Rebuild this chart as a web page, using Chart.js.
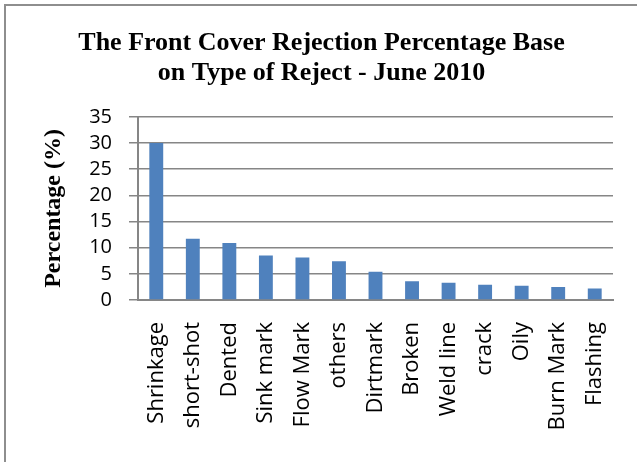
<!DOCTYPE html>
<html lang="en">
<head>
    <meta charset="UTF-8" />
    <title>Front Cover Rejection Percentage</title>
    <script src="https://cdn.jsdelivr.net/npm/chart.js"></script>
    <style>
        html, body {
            margin: 0;
            padding: 0;
            background: #ffffff;
        }
        #wrap {
            position: relative;
            width: 637px;
            height: 462px;
        }
        /* frame line on the top and left edge */
        #frame {
            position: absolute;
            left: 4px;
            top: 4px;
            right: 0;
            bottom: 0;
            border-top: 2px solid #8e8e8e;
            border-left: 2px solid #8e8e8e;
            pointer-events: none;
        }
    </style>
</head>
<body>

<div id="wrap">
    <canvas id="rejectChart" width="637" height="462"></canvas>
    <div id="frame"></div>
</div>

<script>
    // reject types, June 2010
    const rejectTypes = ['Shrinkage', 'short-shot', 'Dented', 'Sink mark', 'Flow Mark', 'others',
        'Dirtmark', 'Broken', 'Weld line', 'crack', 'Oily', 'Burn Mark', 'Flashing'];
    const rejectPercent = [30.0, 11.7, 10.9, 8.5, 8.1, 7.4, 5.4, 3.6, 3.3, 2.9, 2.7, 2.5, 2.2];
    const yTicks = [0, 5, 10, 15, 20, 25, 30, 35];

    const titleLines = ['The Front Cover Rejection Percentage Base', 'on Type of Reject - June 2010'];
    const axisGrey = '#868686';

    const ctx = document.getElementById('rejectChart').getContext('2d');

    new Chart(ctx, {
        type: 'bar',
        data: {
            labels: rejectTypes,
            datasets: [{
                label: 'Percentage (%)',
                data: rejectPercent,
                backgroundColor: '#4f81bd',
                borderWidth: 0,
                categoryPercentage: 1.0,
                barPercentage: 0.38
            }]
        },
        options: {
            responsive: false,
            animation: false,
            layout: {
                padding: { left: 6, right: 0, top: 0, bottom: 0 }
            },
            plugins: {
                legend: { display: false },
                tooltip: { enabled: false },
                title: {
                    display: true,
                    text: titleLines,
                    color: '#000000',
                    font: { family: '"Liberation Serif", "Times New Roman", serif', size: 26, weight: 'bold', lineHeight: 1.15 },
                    padding: { top: 28, bottom: 29 }
                }
            },
            scales: {
                x: {
                    grid: { display: false, drawTicks: false },
                    border: { display: true, color: axisGrey, width: 2 },
                    ticks: {
                        color: '#000000',
                        font: { family: '"Open Sans", sans-serif', size: 22 },
                        maxRotation: 90,
                        minRotation: 90,
                        autoSkip: false,
                        padding: 22
                    },
                    afterFit(scale) {
                        scale.height = 162;
                        // gap between the last category and the right edge
                        scale.paddingLeft = 0;
                        scale.paddingRight = 24;
                    }
                },
                y: {
                    min: 0,
                    max: 35,
                    afterBuildTicks(scale) {
                        scale.ticks = yTicks.map(v => ({ value: v }));
                    },
                    grid: {
                        color: axisGrey,
                        lineWidth: 1.5,
                        drawTicks: true,
                        tickLength: 9
                    },
                    border: { display: true, color: axisGrey, width: 2 },
                    ticks: {
                        color: '#000000',
                        font: { family: '"Open Sans", sans-serif', size: 20 },
                        autoSkip: false,
                        padding: 17
                    },
                    title: {
                        display: true,
                        text: 'Percentage (%)',
                        color: '#000000',
                        font: { family: '"Liberation Serif", "Times New Roman", serif', size: 24, weight: 'bold' },
                        padding: { top: 33, bottom: 0 }
                    },
                    afterFit(scale) {
                        scale.width = 132;
                    }
                }
            }
        }
    });
</script>

</body>
</html>
